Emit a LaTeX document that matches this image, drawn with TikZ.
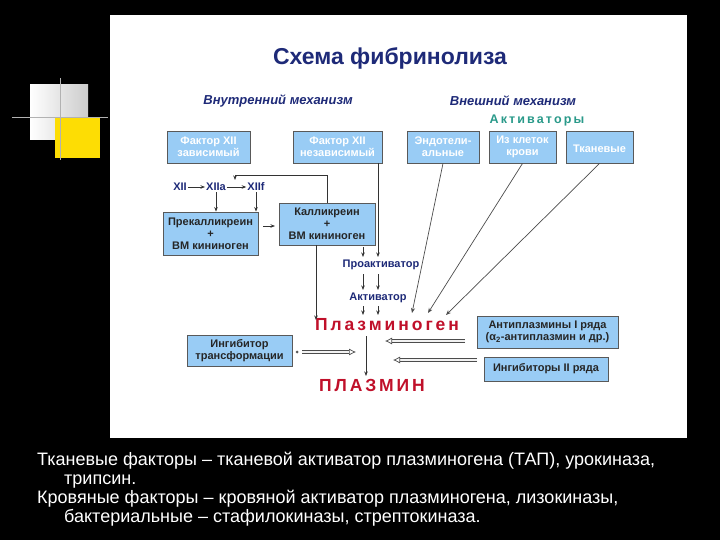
\documentclass[tikz,border=0pt]{standalone}
\usepackage{fontspec}
\setmainfont{Liberation Sans}
\usetikzlibrary{arrows.meta}
\definecolor{bx}{HTML}{99CCF5}
\definecolor{dk}{HTML}{1E2A78}
\definecolor{tl}{HTML}{2A9A8A}
\definecolor{rd}{HTML}{C0102A}
\begin{document}
\begin{tikzpicture}[x=1pt,y=-1pt,
  box/.style={draw=gray!70!black,fill=bx,line width=0.9pt,align=center,inner sep=1pt,font=\bfseries\fontsize{11}{12}\selectfont,text=black!85},
  wbox/.style={box,text=white},
  arr/.style={-{Stealth[length=4.5pt,width=3.5pt]},line width=0.7pt,black!80},
  thin/.style={line width=0.7pt,gray!60!black,-{Stealth[length=5pt,width=4pt]}},
  dbl/.style={double=gray!10,double distance=2pt,line width=0.7pt,draw=gray!60!black,-{Latex[open,length=7pt,width=7pt]}},
  lbl/.style={font=\bfseries\fontsize{11}{12}\selectfont,text=dk,inner sep=1pt}]
\useasboundingbox (0,0) rectangle (720,540);
\fill[black] (0,0) rectangle (720,540);
\fill[white] (110,15) rectangle (687,438);
% decoration
\shade[left color=white,right color=gray!40] (30,85) rectangle (88,140);
\fill[yellow!80!orange] (55,118) rectangle (100,158);
\draw[gray!60,line width=1pt] (60,78) -- (60,160);
\draw[gray!60,line width=1pt] (12,118) -- (108,118);
% titles
\node[font=\bfseries\fontsize{23}{25}\selectfont,text=dk] (title) at (390,58) {Схема фибринолиза};
\node[font=\bfseries\itshape\fontsize{13}{14}\selectfont,text=dk] (vn) at (278,101) {Внутренний механизм};
\node[font=\bfseries\itshape\fontsize{13}{14}\selectfont,text=dk] (vs) at (513,101) {Внешний механизм};
\node[font=\bfseries\fontsize{12.5}{14}\selectfont,text=tl] (akt) at (537,120) {А\,к\,т\,и\,в\,а\,т\,о\,р\,ы};
% boxes
\node[wbox,minimum width=83,minimum height=32] (f1) at (208.5,147) {Фактор XII\\зависимый};
\node[wbox,minimum width=89,minimum height=32] (f2) at (337.5,147) {Фактор XII\\независимый};
\node[wbox,minimum width=72,minimum height=32] (e1) at (443,147) {Эндотели-\\альные};
\node[wbox,minimum width=67,minimum height=32] (e2) at (522.5,147) {Из клеток\\крови};
\node[wbox,minimum width=67,minimum height=32] (e3) at (599.5,147) {\\Тканевые};
\node[box,minimum width=95,minimum height=43] (pk) at (210.5,233.5) {Прекалликреин\\+\\ВМ кининоген};
\node[box,minimum width=96,minimum height=42] (kk) at (327,224) {Калликреин\\+\\ВМ кининоген};
\node[box,minimum width=105,minimum height=31] (it) at (239.5,350.5) {Ингибитор\\трансформации};
\node[box,minimum width=141,minimum height=32] (ap) at (547.5,332) {Антиплазмины I ряда\\(α\textsubscript{2}-антиплазмин и др.)};
\node[box,minimum width=124,minimum height=24] (i2) at (546,369) {Ингибиторы II ряда};
% labels
\node[lbl] (x1) at (180,187) {XII};
\node[lbl] (x2) at (216,187) {XIIa};
\node[lbl] (x3) at (256,187) {XIIf};
\draw[arr] (x1) -- (x2);
\draw[arr] (x2) -- (x3);
\node[lbl] (pa) at (381,265) {Проактиватор};
\node[lbl] (ac) at (378,298) {Активатор};
\node[font=\bfseries\fontsize{17.5}{19}\selectfont,text=rd] (pg) at (387,325) {П\,л\,а\,з\,м\,и\,н\,о\,г\,е\,н};
\node[font=\bfseries\fontsize{17.5}{19}\selectfont,text=rd] (pm) at (372,385) {П\,Л\,А\,З\,М\,И\,Н};
% connectors
\draw[arr] (x2.south) -- (pk.north -| x2.south);
\draw[arr] (x3.south) -- (pk.north -| x3.south);
\coordinate (a1) at (263,226);
\coordinate (a2) at (275,226);
\draw[arr] (a1) -- (a2);
\draw[line width=0.7pt,black!80] (kk.north) -- (327,175) coordinate (c1) -- (235,175) coordinate (c2);
\draw[arr] (c2) -- (235,180);
\draw[arr] (316,245) -- (316,320);
\draw[arr] (378,163) -- (378,257);
\draw[arr] (363,247) -- (363,257);
\draw[arr] (363,274) -- (363,290);
\draw[arr] (378,274) -- (378,290);
\draw[arr] (363,306) -- (363,315);
\draw[arr] (378,306) -- (378,315);
\draw[arr] (366,336) -- (366,376);
\draw[thin] (e1.south) -- (412,313);
\draw[thin] (e2.south) -- (428,313);
\draw[thin] (e3.south) -- (446,315);
\draw[dbl] (302,352) -- (356,352);
\fill[gray!70!black] (297,352) circle (1.5pt);
\draw[dbl] (465,341) -- (385,341);
\draw[dbl] (477,360) -- (393,360);
% bottom text
\node[anchor=north west,align=left,text=white,font=\fontsize{18}{19}\selectfont,inner sep=0] (bt) at (37,452) {Тканевые факторы – тканевой активатор плазминогена (ТАП), урокиназа,\\\hspace*{27pt}трипсин.\\Кровяные факторы – кровяной активатор плазминогена, лизокиназы,\\\hspace*{27pt}бактериальные – стафилокиназы, стрептокиназа.};
\end{tikzpicture}
\end{document}
